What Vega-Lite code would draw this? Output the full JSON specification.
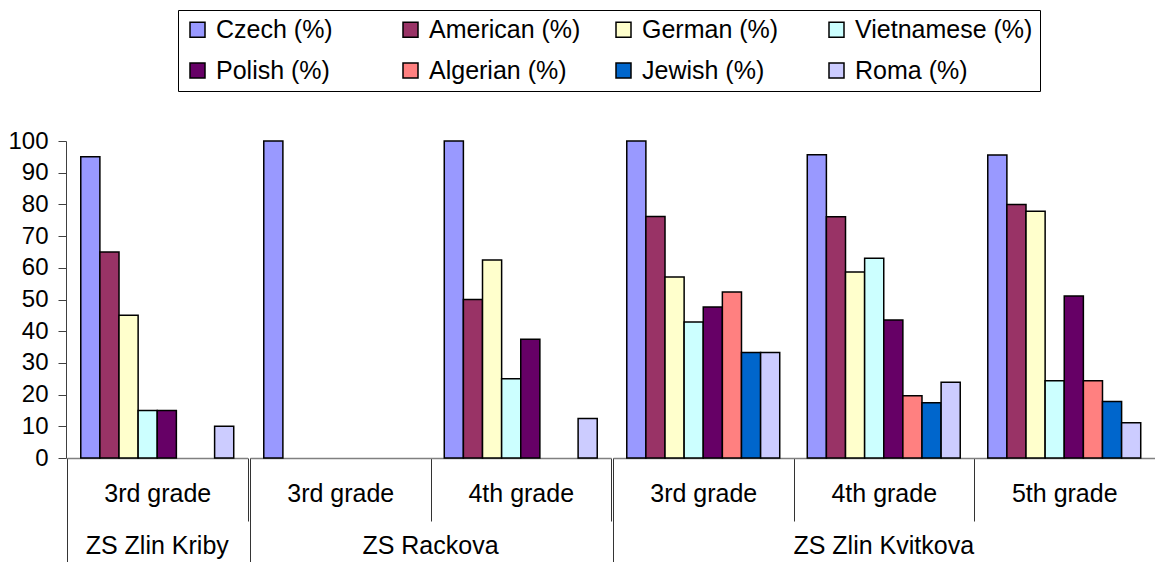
{
  "$schema": "https://vega.github.io/schema/vega-lite/v6.json",
  "padding": {"left": 7, "top": 9, "right": 0, "bottom": 0},
  "background": "white",
  "config": {
    "font": "Liberation Sans",
    "view": {"stroke": null},
    "axis": {"labelFont": "Liberation Sans", "labelColor": "black"},
    "header": {"labelFont": "Liberation Sans"}
  },
  "data": {
    "values": [
      {"school": "ZS Zlin Kriby", "grade": "3rd grade", "group": "Czech (%)", "value": 95},
      {"school": "ZS Zlin Kriby", "grade": "3rd grade", "group": "American (%)", "value": 65},
      {"school": "ZS Zlin Kriby", "grade": "3rd grade", "group": "German (%)", "value": 45},
      {"school": "ZS Zlin Kriby", "grade": "3rd grade", "group": "Vietnamese (%)", "value": 15},
      {"school": "ZS Zlin Kriby", "grade": "3rd grade", "group": "Polish (%)", "value": 15},
      {"school": "ZS Zlin Kriby", "grade": "3rd grade", "group": "Roma (%)", "value": 10},
      {"school": "ZS Rackova", "grade": "3rd grade", "group": "Czech (%)", "value": 100},
      {"school": "ZS Rackova", "grade": "4th grade", "group": "Czech (%)", "value": 100},
      {"school": "ZS Rackova", "grade": "4th grade", "group": "American (%)", "value": 50},
      {"school": "ZS Rackova", "grade": "4th grade", "group": "German (%)", "value": 62.5},
      {"school": "ZS Rackova", "grade": "4th grade", "group": "Vietnamese (%)", "value": 25},
      {"school": "ZS Rackova", "grade": "4th grade", "group": "Polish (%)", "value": 37.5},
      {"school": "ZS Rackova", "grade": "4th grade", "group": "Roma (%)", "value": 12.5},
      {"school": "ZS Zlin Kvitkova", "grade": "3rd grade", "group": "Czech (%)", "value": 100},
      {"school": "ZS Zlin Kvitkova", "grade": "3rd grade", "group": "American (%)", "value": 76.2},
      {"school": "ZS Zlin Kvitkova", "grade": "3rd grade", "group": "German (%)", "value": 57.1},
      {"school": "ZS Zlin Kvitkova", "grade": "3rd grade", "group": "Vietnamese (%)", "value": 42.9},
      {"school": "ZS Zlin Kvitkova", "grade": "3rd grade", "group": "Polish (%)", "value": 47.6},
      {"school": "ZS Zlin Kvitkova", "grade": "3rd grade", "group": "Algerian (%)", "value": 52.4},
      {"school": "ZS Zlin Kvitkova", "grade": "3rd grade", "group": "Jewish (%)", "value": 33.3},
      {"school": "ZS Zlin Kvitkova", "grade": "3rd grade", "group": "Roma (%)", "value": 33.3},
      {"school": "ZS Zlin Kvitkova", "grade": "4th grade", "group": "Czech (%)", "value": 95.7},
      {"school": "ZS Zlin Kvitkova", "grade": "4th grade", "group": "American (%)", "value": 76.1},
      {"school": "ZS Zlin Kvitkova", "grade": "4th grade", "group": "German (%)", "value": 58.7},
      {"school": "ZS Zlin Kvitkova", "grade": "4th grade", "group": "Vietnamese (%)", "value": 63.0},
      {"school": "ZS Zlin Kvitkova", "grade": "4th grade", "group": "Polish (%)", "value": 43.5},
      {"school": "ZS Zlin Kvitkova", "grade": "4th grade", "group": "Algerian (%)", "value": 19.6},
      {"school": "ZS Zlin Kvitkova", "grade": "4th grade", "group": "Jewish (%)", "value": 17.4},
      {"school": "ZS Zlin Kvitkova", "grade": "4th grade", "group": "Roma (%)", "value": 23.9},
      {"school": "ZS Zlin Kvitkova", "grade": "5th grade", "group": "Czech (%)", "value": 95.6},
      {"school": "ZS Zlin Kvitkova", "grade": "5th grade", "group": "American (%)", "value": 80},
      {"school": "ZS Zlin Kvitkova", "grade": "5th grade", "group": "German (%)", "value": 77.8},
      {"school": "ZS Zlin Kvitkova", "grade": "5th grade", "group": "Vietnamese (%)", "value": 24.4},
      {"school": "ZS Zlin Kvitkova", "grade": "5th grade", "group": "Polish (%)", "value": 51.1},
      {"school": "ZS Zlin Kvitkova", "grade": "5th grade", "group": "Algerian (%)", "value": 24.4},
      {"school": "ZS Zlin Kvitkova", "grade": "5th grade", "group": "Jewish (%)", "value": 17.8},
      {"school": "ZS Zlin Kvitkova", "grade": "5th grade", "group": "Roma (%)", "value": 11.1}
    ]
  },
  "facet": {
    "column": {
      "field": "school",
      "type": "nominal",
      "sort": ["ZS Zlin Kriby", "ZS Rackova", "ZS Zlin Kvitkova"],
      "header": {"title": null, "labelOrient": "bottom", "labelFontSize": 25, "labelColor": "black", "labelPadding": -30}
    }
  },
  "spacing": 0,
  "resolve": {"scale": {"x": "independent", "xOffset": "independent"}},
  "spec": {
    "width": {"step": 180.5, "for": "position"},
    "height": 317,
    "encoding": {
      "xOffset": {
        "field": "group",
        "type": "nominal",
        "scale": {
          "domain": ["Czech (%)", "American (%)", "German (%)", "Vietnamese (%)", "Polish (%)", "Algerian (%)", "Jewish (%)", "Roma (%)"],
          "paddingInner": 0,
          "paddingOuter": 0.72
        }
      },
      "y": {
        "field": "value",
        "type": "quantitative",
        "scale": {"domain": [0, 100], "nice": false},
        "axis": {
          "title": null,
          "grid": false,
          "values": [0, 10, 20, 30, 40, 50, 60, 70, 80, 90, 100],
          "labelFontSize": 24,
          "labelPadding": 10,
          "tickSize": 8,
          "tickColor": "#404040",
          "domainColor": "#404040"
        }
      }
    },
    "layer": [
      {
        "mark": {"type": "bar", "opacity": 0},
        "encoding": {
          "x": {
            "field": "grade",
            "type": "nominal",
            "scale": {"paddingInner": 0, "paddingOuter": 0},
            "axis": {
              "orient": "bottom",
              "title": null,
              "labels": false,
              "domain": false,
              "grid": false,
              "tickBand": "extent",
              "tickSize": 105,
              "tickColor": "#333333",
              "tickOpacity": {"condition": {"test": "datum.extra || datum.value === '5th grade'", "value": 0.99}, "value": 0}
            }
          }
        }
      },
      {
        "mark": {"type": "bar", "stroke": "black", "strokeWidth": 1.5},
        "encoding": {
          "x": {
            "field": "grade",
            "type": "nominal",
            "scale": {"paddingInner": 0, "paddingOuter": 0},
            "axis": {
              "orient": "bottom",
              "title": null,
              "labelAngle": 0,
              "labelFontSize": 25,
              "labelBaseline": "middle",
              "labelPadding": -28,
              "tickBand": "extent",
              "tickSize": 63,
              "tickColor": "#333333",
              "domainColor": "#808080",
              "domainWidth": 1.5
            }
          },
          "color": {
            "field": "group",
            "type": "nominal",
            "scale": {
              "domain": ["Czech (%)", "American (%)", "German (%)", "Vietnamese (%)", "Polish (%)", "Algerian (%)", "Jewish (%)", "Roma (%)"],
              "range": ["#9999FF", "#993366", "#FFFFCC", "#CCFFFF", "#660066", "#FF8080", "#0066CC", "#CCCCFF"]
            },
            "legend": {
              "title": null,
              "orient": "none",
              "legendX": 111,
              "legendY": -131,
              "direction": "horizontal",
              "columns": 4,
              "gridAlign": "all",
              "symbolType": "square",
              "symbolSize": 225,
              "symbolStrokeColor": "black",
              "symbolStrokeWidth": 1.5,
              "labelFontSize": 25,
              "labelColor": "black",
              "labelOffset": 6,
              "labelLimit": 0,
              "columnPadding": 4,
              "rowPadding": 15,
              "padding": 7,
              "strokeColor": "black"
            }
          }
        }
      }
    ],
    "resolve": {"axis": {"x": "independent"}}
  }
}
